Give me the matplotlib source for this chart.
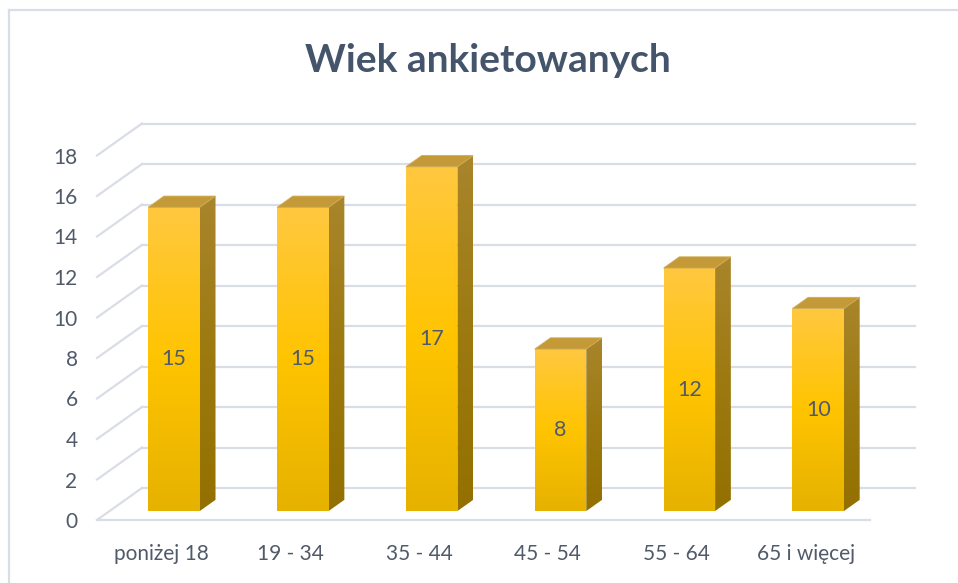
import matplotlib
matplotlib.use('Agg')
import matplotlib.pyplot as plt
import numpy as np
from matplotlib.colors import LinearSegmentedColormap
from matplotlib.lines import Line2D
from matplotlib.patches import Polygon

categories = ['poniżej 18', '19 - 34', '35 - 44', '45 - 54', '55 - 64', '65 i więcej']
values = [15, 15, 17, 8, 12, 10]
yticks = list(range(0, 20, 2))
title = 'Wiek ankietowanych'

# oblique depth of the floor in data units (x: category, y: value)
DEPTH_X = 0.349
DEPTH_Y = 1.58
BAR_WIDTH = 0.40
BAR_Z0, BAR_Z1 = 0.28, 0.63

GRID = '#D9DEE6'
TEXT = '#505A6A'
TITLE = '#44546A'

front_cmap = LinearSegmentedColormap.from_list('front', ['#E6B200', '#FFC400', '#FFC840'])
side_cmap = LinearSegmentedColormap.from_list('side', ['#937000', '#9C7A10', '#A9852C'])
TOP_COLOR = '#C49A38'

plt.rcParams['font.family'] = ['Lato', 'DejaVu Sans']


def proj(x, y, z):
    return x + z * DEPTH_X, y + z * DEPTH_Y


def gradient_face(ax, corners, cmap):
    poly = Polygon(corners, closed=True, facecolor='none', edgecolor='none')
    ax.add_patch(poly)
    xs = [c[0] for c in corners]
    ys = [c[1] for c in corners]
    grad = np.linspace(0, 1, 256).reshape(-1, 1)
    im = ax.imshow(grad, cmap=cmap, origin='lower', aspect='auto',
                   extent=(min(xs), max(xs), min(ys), max(ys)), zorder=3)
    im.set_clip_path(poly)


def draw_bar(ax, i, v):
    xl = i + 0.5 - BAR_WIDTH / 2
    xr = i + 0.5 + BAR_WIDTH / 2
    front = [proj(xl, 0, BAR_Z0), proj(xr, 0, BAR_Z0), proj(xr, v, BAR_Z0), proj(xl, v, BAR_Z0)]
    side = [proj(xr, 0, BAR_Z0), proj(xr, 0, BAR_Z1), proj(xr, v, BAR_Z1), proj(xr, v, BAR_Z0)]
    top = [proj(xl, v, BAR_Z0), proj(xr, v, BAR_Z0), proj(xr, v, BAR_Z1), proj(xl, v, BAR_Z1)]
    gradient_face(ax, front, front_cmap)
    gradient_face(ax, side, side_cmap)
    ax.add_patch(Polygon(top, closed=True, facecolor=TOP_COLOR, edgecolor='#D0AA50',
                         linewidth=0.6, zorder=4))
    cx, cy = proj(i + 0.5, v / 2, BAR_Z0)
    ax.text(cx, cy, str(v), ha='center', va='center', fontsize=15.5, color=TEXT, zorder=5)


def main():
    fig = plt.figure(figsize=(9.58, 5.83), dpi=100)
    ax = fig.add_axes([97 / 958, 63 / 583, 773 / 958, 425.25 / 583])

    ncat = len(categories)
    # side wall and back wall gridlines
    for t in yticks:
        bx, by = proj(0, t, 1)
        ax.plot([0, bx], [t, by], color=GRID, lw=1.6, clip_on=False, zorder=1)
        ax.plot([bx, ncat + DEPTH_X], [by, by], color=GRID, lw=1.6, clip_on=False, zorder=1)
    # front edge of the floor
    ax.plot([0, ncat], [0, 0], color=GRID, lw=1.6, clip_on=False, zorder=1)

    for i, v in enumerate(values):
        draw_bar(ax, i, v)

    ax.set_xlim(0, ncat)
    ax.set_ylim(0, 21)
    ax.set_xticks(np.arange(ncat) + 0.5)
    ax.set_xticklabels(categories)
    ax.set_yticks(yticks)
    ax.tick_params(axis='y', length=0, pad=14, labelsize=15, labelcolor=TEXT)
    ax.tick_params(axis='x', length=0, pad=17, labelsize=15, labelcolor=TEXT)
    for spine in ax.spines.values():
        spine.set_visible(False)
    ax.patch.set_visible(False)

    fig.text(488 / 958, 1 - 61 / 583, title, ha='center', va='center',
             fontsize=28, fontweight='bold', color=TITLE)

    # outer chart frame (only top and left edges are visible)
    fig.add_artist(Line2D([9 / 958, 9 / 958], [0, 1 - 10 / 583], color=GRID, lw=1.6))
    fig.add_artist(Line2D([9 / 958, 1], [1 - 10 / 583, 1 - 10 / 583], color=GRID, lw=1.6))

    fig.savefig('out.png', dpi=100)
    plt.close(fig)


if __name__ == "__main__":
    main()
